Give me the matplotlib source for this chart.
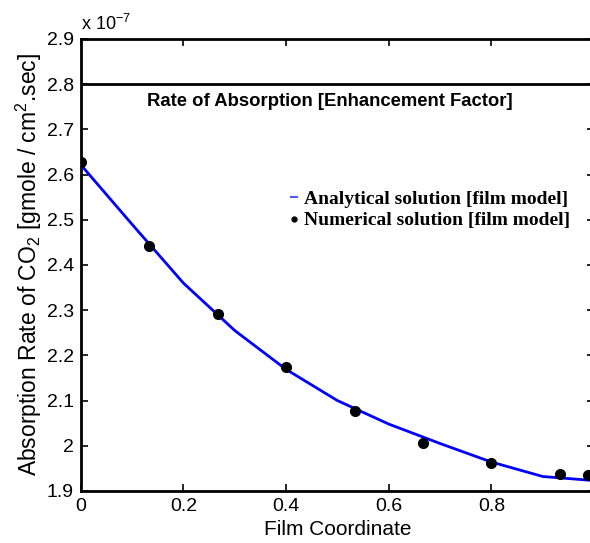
import numpy as np
from matplotlib import pyplot as plt
from matplotlib.lines import Line2D
from matplotlib.ticker import FuncFormatter

# analytical solution (film model), values in units of 1e-7
analytical_x = [0.0, 0.1, 0.2, 0.3, 0.4, 0.5, 0.6, 0.7, 0.8, 0.9, 1.0]
analytical_y = [2.622, 2.490, 2.360, 2.255, 2.169, 2.100, 2.048, 2.005, 1.964, 1.932, 1.923]

# numerical solution (film model)
numerical_x = [0.0, 0.1333, 0.2667, 0.4, 0.5333, 0.6667, 0.8, 0.9333, 0.988]
numerical_y = [2.627, 2.443, 2.292, 2.175, 2.077, 2.007, 1.961, 1.938, 1.936]

enhancement_level = 2.8

x_ticks = [0, 0.2, 0.4, 0.6, 0.8, 1.0]
y_ticks = [1.9, 2.0, 2.1, 2.2, 2.3, 2.4, 2.5, 2.6, 2.7, 2.8, 2.9]

plt.rcParams['font.family'] = ['Liberation Sans', 'DejaVu Sans']
plt.rcParams['mathtext.fontset'] = 'custom'
plt.rcParams['mathtext.rm'] = 'Liberation Sans'

fig = plt.figure(figsize=(5.9, 5.43), dpi=100)
ax = fig.add_axes([0.1368, 0.0958, 0.8703, 0.8324])

ax.plot(analytical_x, analytical_y, color='#0000ff', lw=2.0, zorder=2)
ax.plot(numerical_x, numerical_y, 'o', color='black', markersize=7, zorder=3)
ax.axhline(enhancement_level, color='black', lw=2.0)

ax.text(0.485, 2.762, 'Rate of Absorption [Enhancement Factor]', ha='center', va='center',
        fontsize=13.3, fontweight='bold')

ax.set_xlim(0, 1)
ax.set_ylim(1.9, 2.9)
ax.set_xticks(x_ticks)
ax.set_yticks(y_ticks)
fmt = FuncFormatter(lambda v, p: '%g' % round(v, 2))
ax.xaxis.set_major_formatter(fmt)
ax.yaxis.set_major_formatter(fmt)
ax.tick_params(direction='in', top=True, right=True, labelsize=14, length=5, width=1.2, pad=5)
for s in ax.spines.values():
    s.set_linewidth(2.0)

ax.set_xlabel('Film Coordinate', fontsize=15, labelpad=4)
ax.set_ylabel(r'Absorption Rate of CO$_\mathrm{2}$ [gmole / cm$^\mathrm{2}$.sec]', fontsize=16.5, labelpad=2)
ax.text(0.0, 1.012, r'x 10$^{\mathrm{-7}}$', transform=ax.transAxes, fontsize=13, ha='left', va='bottom')

handles = [
    Line2D([], [], color='#4a5cff', lw=1.5),
    Line2D([], [], marker='o', color='black', ls='none', markersize=3.5),
]
ax.legend(handles, ['Analytical solution [film model]', 'Numerical solution [film model]'],
          loc='center left', bbox_to_anchor=(0.41, 0.622), frameon=False,
          borderpad=0, borderaxespad=0,
          handlelength=0.3, handletextpad=0.35, labelspacing=0.2,
          prop={'family': 'Liberation Serif', 'weight': 'bold', 'size': 14})

fig.savefig('out.png')
